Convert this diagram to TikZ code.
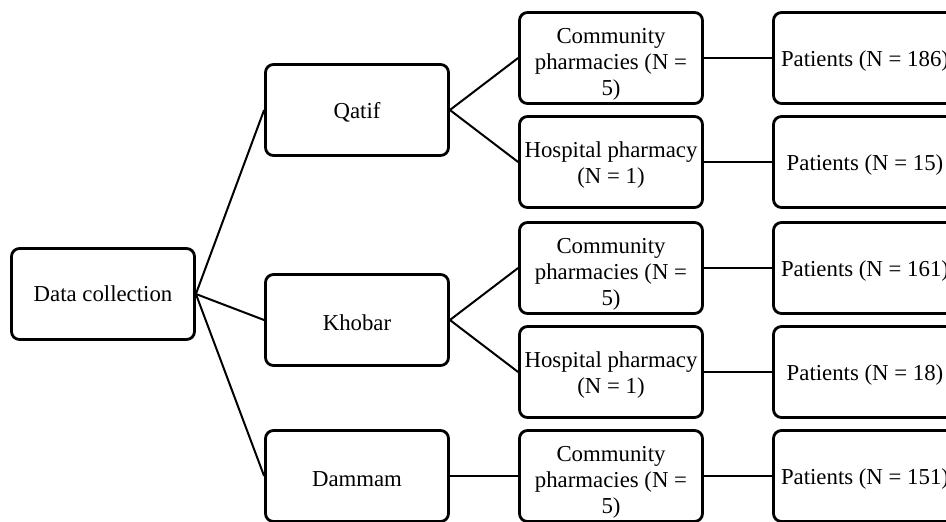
\documentclass[tikz,border=0pt]{standalone}
\usepackage{fontspec}
\setmainfont{Liberation Serif}
\usepackage{tikz}
\usetikzlibrary{positioning}

\newcommand{\lift}[1]{\rule{0pt}{#1}}

\tikzset{
    box/.style={draw, line width=1.4pt, rounded corners=4pt, align=center,
        minimum width=91.5pt, minimum height=45.5pt, inner sep=1pt,
        font=\fontsize{11.4}{12.8}\selectfont},
    link/.style={line width=1pt}
}

\begin{document}
\begin{tikzpicture}[node distance = 127pt, on grid]
    \useasboundingbox (-51.5pt,147pt) rectangle (421.5pt,-113.5pt);
    \clip (-51.5pt,147pt) rectangle (421.5pt,-113.5pt);

    \node[box] (data) {Data collection};
    \node[box, above right=92pt and 127pt of data] (qatif) {\lift{10.5pt}Qatif};
    \node[box, below right=13pt and 127pt of data] (khobar) {\lift{10.5pt}Khobar};
    \node[box, below right=91pt and 127pt of data] (dammam) {\lift{10.5pt}Dammam};

    \node[box, above right=26pt and 127pt of qatif] (qcomm) {\lift{14pt}Community\\pharmacies (N =\\5)};
    \node[box, below right=26pt and 127pt of qatif] (qhosp) {\lift{11pt}Hospital pharmacy\\(N = 1)};
    \node[box, above right=26pt and 127pt of khobar] (kcomm) {\lift{14pt}Community\\pharmacies (N =\\5)};
    \node[box, below right=26pt and 127pt of khobar] (khosp) {\lift{11pt}Hospital pharmacy\\(N = 1)};
    \node[box, right=of dammam] (dcomm) {\lift{14pt}Community\\pharmacies (N =\\5)};

    \node[box, right=of qcomm] (qcpat) {\lift{10.5pt}Patients (N = 186)};
    \node[box, right=of qhosp] (qhpat) {\lift{10.5pt}Patients (N = 15)};
    \node[box, right=of kcomm] (kcpat) {\lift{10.5pt}Patients (N = 161)};
    \node[box, right=of khosp] (khpat) {\lift{10.5pt}Patients (N = 18)};
    \node[box, right=of dcomm] (dcpat) {\lift{10.5pt}Patients (N = 151)};

    \path (data.east) edge[link] (qatif.west);
    \path (data.east) edge[link] (khobar.west);
    \path (data.east) edge[link] (dammam.west);
    \path (qatif.east) edge[link] (qcomm.west);
    \path (qatif.east) edge[link] (qhosp.west);
    \path (khobar.east) edge[link] (kcomm.west);
    \path (khobar.east) edge[link] (khosp.west);
    \path (dammam.east) edge[link] (dcomm.west);
    \path (qcomm) edge[link] (qcpat);
    \path (qhosp) edge[link] (qhpat);
    \path (kcomm) edge[link] (kcpat);
    \path (khosp) edge[link] (khpat);
    \path (dcomm) edge[link] (dcpat);
\end{tikzpicture}
\end{document}
